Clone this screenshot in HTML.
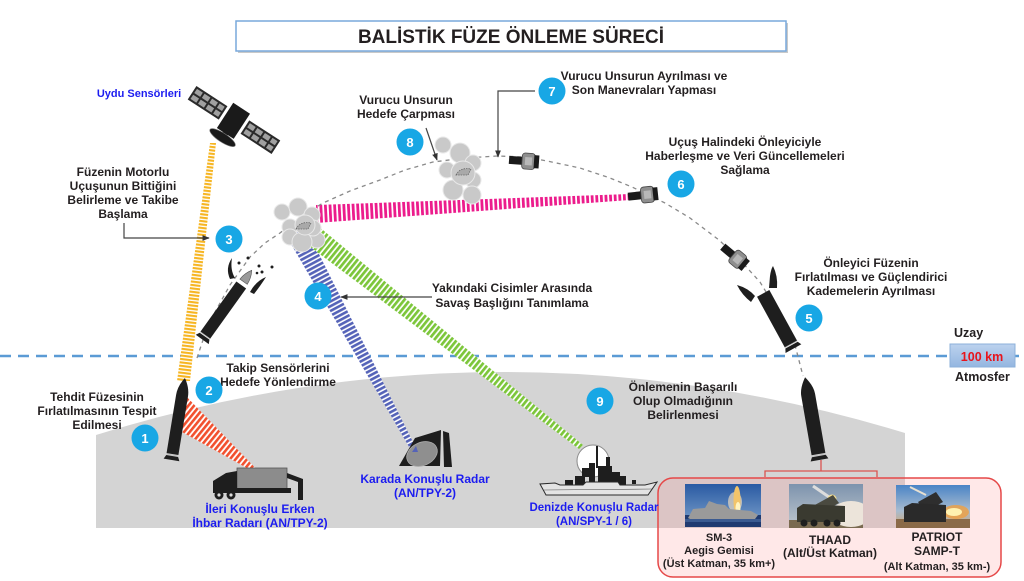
<!DOCTYPE html>
<html><head><meta charset="utf-8"><style>
html,body{margin:0;padding:0;background:#fff;}
svg{display:block;}
text{font-family:"Liberation Sans",Arial,sans-serif;font-weight:bold;fill:#231f20;}
.l{font-size:12px;text-anchor:middle;}
.b{font-size:12px;text-anchor:middle;fill:#1c1cf0;}
.n{font-size:13px;text-anchor:middle;fill:#fff;}
.c{font-size:11px;text-anchor:middle;}
</style></head><body>
<svg width="1024" height="581" viewBox="0 0 1024 581" xmlns="http://www.w3.org/2000/svg">
<defs>
<pattern id="pY" width="3.4" height="10" patternUnits="userSpaceOnUse" patternTransform="rotate(97)"><rect width="3.4" height="10" fill="#fff"/><rect width="2.1" height="10" fill="#f6b522"/></pattern>
<pattern id="pR" width="4.4" height="10" patternUnits="userSpaceOnUse" patternTransform="rotate(39)"><rect width="4.4" height="10" fill="#fff"/><rect width="2.6" height="10" fill="#f2502e"/></pattern>
<pattern id="pB" width="4.2" height="10" patternUnits="userSpaceOnUse" patternTransform="rotate(62)"><rect width="4.2" height="10" fill="#fff"/><rect width="2.6" height="10" fill="#5563b8"/></pattern>
<pattern id="pG" width="4.4" height="10" patternUnits="userSpaceOnUse" patternTransform="rotate(39)"><rect width="4.4" height="10" fill="#fff"/><rect width="2.7" height="10" fill="#7cc63a"/></pattern>
<pattern id="pM" width="4.6" height="10" patternUnits="userSpaceOnUse" patternTransform="rotate(-3)"><rect width="4.6" height="10" fill="#fff"/><rect width="2.8" height="10" fill="#ec1c8c"/></pattern>
<marker id="ah" viewBox="0 0 10 10" refX="9" refY="5" markerWidth="6" markerHeight="6" orient="auto"><path d="M0,1 L10,5 L0,9 z" fill="#333"/></marker>
<linearGradient id="g100" x1="0" y1="0" x2="0" y2="1"><stop offset="0" stop-color="#bcd2ee"/><stop offset="1" stop-color="#94b6e0"/></linearGradient>
<linearGradient id="gSM" x1="0" y1="0" x2="0" y2="1"><stop offset="0" stop-color="#2a5aa3"/><stop offset="1" stop-color="#7ea3cd"/></linearGradient>
<linearGradient id="gTH" x1="0" y1="0" x2="0" y2="1"><stop offset="0" stop-color="#7d93ad"/><stop offset="1" stop-color="#c0c8cf"/></linearGradient>
<linearGradient id="gPA" x1="0" y1="0" x2="0" y2="1"><stop offset="0" stop-color="#4a84c6"/><stop offset="0.6" stop-color="#a8bcd0"/><stop offset="1" stop-color="#d6a66c"/></linearGradient>
<g id="kv"><rect x="-16" y="-4" width="14" height="8" fill="#1a1a1a"/><rect x="-3" y="-8" width="13" height="16" rx="3" fill="#8f8f8f" stroke="#444" stroke-width="0.8"/><rect x="0" y="-4" width="7" height="8" fill="#b8b8b8"/><rect x="9" y="-6.5" width="5" height="13" fill="#1a1a1a"/></g>
<path id="wh" d="M-7,3 Q-3,-5 8,-3 L5,3 Z" fill="#a9a9a9" stroke="#666" stroke-width="0.8" stroke-dasharray="1.5 1"/>
</defs>

<!-- ground -->
<path d="M96,435 Q500,310 905,433 L905,528 L96,528 Z" fill="#d4d4d4"/>

<!-- space line -->
<line x1="0" y1="356" x2="1024" y2="356" stroke="#5b9bd5" stroke-width="2.5" stroke-dasharray="11 7"/>

<!-- title -->
<rect x="238" y="23" width="550" height="30" fill="#c9c9c9"/>
<rect x="236" y="21" width="550" height="30" fill="#fff" stroke="#78a9dc" stroke-width="1.5"/>
<text x="511" y="43" style="font-size:19px;text-anchor:middle;">BALİSTİK FÜZE ÖNLEME SÜRECİ</text>

<!-- beams -->
<polygon points="210,143 216,143 190,381 177,381" fill="url(#pY)"/>
<polygon points="184,394 182,432 265,478" fill="url(#pR)"/>
<polygon points="284,232 306,228 418,452 412,452" fill="url(#pB)"/>
<polygon points="318,226 309,246 579,449 583,445" fill="url(#pG)"/>
<polygon points="316,205 316,223 630,200 630,194" fill="url(#pM)"/>

<!-- trajectory -->
<polyline points="197,358 204,337 215,312 230,285 250,257 265,243 280,233 300,217 323,203 350,191 380,180 405,170 433,162 465,158 497,156 525,157 547,161 580,168 610,178 632,187 665,203 690,218 719,240 740,260 760,282 780,315 795,345 803,376" fill="none" stroke="#8a8a8a" stroke-width="1.3" stroke-dasharray="4 4"/>

<!-- satellite -->
<g transform="translate(234,120) rotate(33)">
 <rect x="-50" y="-8" width="37" height="16" fill="#2a2a2a"/>
 <g fill="#a0a0a0">
  <rect x="-48" y="-6" width="7" height="5"/><rect x="-39" y="-6" width="7" height="5"/><rect x="-30" y="-6" width="7" height="5"/><rect x="-21" y="-6" width="6" height="5"/>
  <rect x="-48" y="1" width="7" height="5"/><rect x="-39" y="1" width="7" height="5"/><rect x="-30" y="1" width="7" height="5"/><rect x="-21" y="1" width="6" height="5"/>
 </g>
 <rect x="13" y="-8" width="37" height="16" fill="#2a2a2a"/>
 <g fill="#a0a0a0">
  <rect x="15" y="-6" width="7" height="5"/><rect x="24" y="-6" width="7" height="5"/><rect x="33" y="-6" width="7" height="5"/><rect x="42" y="-6" width="6" height="5"/>
  <rect x="15" y="1" width="7" height="5"/><rect x="24" y="1" width="7" height="5"/><rect x="33" y="1" width="7" height="5"/><rect x="42" y="1" width="6" height="5"/>
 </g>
 <rect x="-10" y="-14" width="20" height="30" fill="#1a1a1a"/>
 <rect x="-3" y="14" width="6" height="6" fill="#1a1a1a"/>
 <ellipse cx="0" cy="21" rx="15" ry="4.5" fill="#1a1a1a" stroke="#777" stroke-width="0.6"/>
</g>

<!-- debris clouds -->
<g fill="#c9c9c9" stroke="#e8e8e8" stroke-width="1">
 <circle cx="282" cy="212" r="8"/><circle cx="298" cy="207" r="9"/><circle cx="312" cy="215" r="8"/>
 <circle cx="290" cy="227" r="8"/><circle cx="290" cy="237" r="8"/><circle cx="317" cy="240" r="8"/>
 <circle cx="313" cy="228" r="8"/><circle cx="302" cy="242" r="10"/><circle cx="305" cy="225" r="10"/>
 <circle cx="443" cy="145" r="8"/><circle cx="460" cy="153" r="10"/><circle cx="473" cy="163" r="8"/>
 <circle cx="447" cy="170" r="8"/><circle cx="473" cy="180" r="8"/><circle cx="453" cy="190" r="10"/>
 <circle cx="472" cy="195" r="9"/><circle cx="463" cy="173" r="12"/>
</g>
<use href="#wh" transform="translate(303,226)"/>
<use href="#wh" transform="translate(463,172)"/>

<!-- kill vehicles -->
<use href="#kv" transform="translate(525,161) rotate(4)"/>
<use href="#kv" transform="translate(644,195) rotate(-6)"/>
<use href="#kv" transform="translate(735,257) rotate(40)"/>

<!-- threat missile launch -->
<g transform="translate(172,457) rotate(9.3)">
 <path d="M-6,-3 L-6,-62 Q-6,-71 0,-80 Q6,-71 6,-62 L6,-3 Z" fill="#1e1e1e"/>
 <path d="M-8,3 L8,3 L6,-1 L-6,-1 Z" fill="#1e1e1e"/>
 <line x1="-6" y1="-2" x2="6" y2="-2" stroke="#bbb" stroke-width="0.8"/>
</g>
<!-- threat missile midcourse -->
<g transform="translate(204,337) rotate(35.6)">
 <rect x="-6" y="-64" width="12" height="62" fill="#1e1e1e"/>
 <path d="M-8,3 L8,3 L6,-1 L-6,-1 Z" fill="#1e1e1e"/>
 <line x1="-6" y1="-2" x2="6" y2="-2" stroke="#bbb" stroke-width="0.8"/>
 <path d="M-4.5,-68 L4.5,-68 Q4,-76 0,-82 Q-4,-76 -4.5,-68 Z" fill="#9a9a9a" stroke="#555" stroke-width="0.6"/>
</g>
<path d="M230,279 Q225,268 232,258 Q230,270 235,278 Z" fill="#1e1e1e"/>
<path d="M250,292 Q256,281 266,277 Q261,285 254,294 Z" fill="#1e1e1e"/>
<g fill="#1e1e1e"><circle cx="248" cy="258" r="1.5"/><circle cx="239" cy="263" r="1.5"/><circle cx="259" cy="266" r="1.5"/><circle cx="272" cy="267" r="1.5"/><circle cx="262" cy="272" r="1.5"/><circle cx="257" cy="273" r="1.3"/></g>

<!-- interceptor upper -->
<g transform="translate(792,346) rotate(-28.7)">
 <rect x="-7" y="-60" width="14" height="58" fill="#1e1e1e"/>
 <path d="M-9,3 L9,3 L7,-1 L-7,-1 Z" fill="#1e1e1e"/>
 <line x1="-7" y1="-2" x2="7" y2="-2" stroke="#bbb" stroke-width="0.8"/>
</g>
<path d="M769,288 L770,276 Q771,269 773,266 Q778,276 777,288 Z" fill="#1e1e1e"/>
<path d="M737,285 Q748,288 755,296 L751,302 Q742,295 737,285 Z" fill="#1e1e1e"/>
<!-- interceptor launch -->
<g transform="translate(819,457) rotate(-9.9)">
 <path d="M-7,-3 L-7,-63 Q-7,-71 0,-81 Q7,-71 7,-63 L7,-3 Z" fill="#1e1e1e"/>
 <path d="M-9,3 L9,3 L7,-1 L-7,-1 Z" fill="#1e1e1e"/>
 <line x1="-7" y1="-2" x2="7" y2="-2" stroke="#bbb" stroke-width="0.8"/>
</g>

<!-- radar truck -->
<rect x="237" y="468" width="50" height="22" fill="#8c8c8c" stroke="#555" stroke-width="0.8"/>
<path d="M213,490 L213,481 L226,473 L237,471 L237,490 Z" fill="#1e1e1e"/>
<rect x="213" y="488" width="78" height="5" fill="#1e1e1e"/>
<path d="M287,473 L303,479 L303,500 L298,500 L298,482 L287,478 Z" fill="#1e1e1e"/>
<circle cx="219" cy="495" r="4.5" fill="#1e1e1e"/><circle cx="219" cy="495" r="1.6" fill="#ddd"/>
<circle cx="231" cy="495" r="4.5" fill="#1e1e1e"/><circle cx="231" cy="495" r="1.6" fill="#ddd"/>

<!-- land radar -->
<polygon points="399,466 415,438 441,430 440,466" fill="#1e1e1e"/>
<polygon points="443,431 449,433 452,467 444,467" fill="#1e1e1e"/>
<ellipse cx="422" cy="454" rx="16" ry="11.5" transform="rotate(-25 422 454)" fill="#8f8f8f" stroke="#aaa" stroke-width="0.8"/>
<polygon points="412,452 418,452 416,446" fill="#5563b8"/>

<!-- ship -->
<circle cx="593" cy="461" r="16" fill="#fff" stroke="#8a8a8a" stroke-width="1"/>
<g fill="#1e1e1e">
 <rect x="596" y="446" width="2" height="22"/>
 <rect x="575" y="476" width="10" height="9"/>
 <rect x="582" y="468" width="8" height="9"/>
 <rect x="589" y="463" width="6" height="22"/>
 <rect x="598" y="466" width="14" height="19"/>
 <rect x="606" y="457" width="4" height="10"/>
 <rect x="612" y="472" width="8" height="13"/>
 <rect x="620" y="476" width="6" height="9"/>
 <rect x="565" y="480" width="8" height="5"/>
 <rect x="632" y="480" width="4" height="4"/>
</g>
<polygon points="540,484 546,495 648,495 657,482 645,485 620,485 618,482 586,482 583,485 560,485 555,483" fill="#e4e4e4" stroke="#2a2a2a" stroke-width="1"/>
<line x1="544" y1="490" x2="652" y2="489" stroke="#555" stroke-width="0.6"/>

<!-- interceptor box -->
<path d="M765,477 V471 H877 V477 M821,471 V460" fill="none" stroke="#d9534f" stroke-width="1.3"/>
<rect x="658" y="478" width="343" height="99" rx="15" fill="rgba(255,140,140,0.2)" stroke="#e54848" stroke-width="1.5"/>

<!-- SM-3 photo -->
<svg x="685" y="484" width="76" height="43" viewBox="0 0 76 43">
 <rect width="76" height="43" fill="url(#gSM)"/>
 <rect y="31" width="76" height="12" fill="#1f3a70"/>
 <ellipse cx="50" cy="18" rx="7" ry="10" fill="#e8d8c0" opacity="0.7"/>
 <ellipse cx="52" cy="16" rx="3.5" ry="14" fill="#f2c46a"/>
 <ellipse cx="53" cy="24" rx="2.5" ry="6" fill="#fff3c0"/>
 <polygon points="3,34 8,25 20,24 24,17 32,20 40,21 44,25 66,27 73,31 70,35 5,35" fill="#9a9a9a"/>
 <rect x="0" y="35" width="76" height="3" fill="#3a5a90"/>
</svg>
<!-- THAAD photo -->
<svg x="789" y="484" width="74" height="44" viewBox="0 0 74 44">
 <rect width="74" height="44" fill="url(#gTH)"/>
 <rect y="36" width="74" height="8" fill="#7a6a50"/>
 <ellipse cx="62" cy="30" rx="20" ry="13" fill="#ece4da"/>
 <line x1="40" y1="13" x2="24" y2="2" stroke="#ddd" stroke-width="3"/>
 <circle cx="43" cy="15" r="4.5" fill="#f8e090"/>
 <polygon points="24,22 44,11 50,19 30,30" fill="#4a4a40"/>
 <polygon points="8,24 14,20 56,22 56,38 8,38" fill="#3a3a30"/>
 <g fill="#1e1e1e"><circle cx="15" cy="39" r="3.5"/><circle cx="25" cy="39" r="3.5"/><circle cx="38" cy="39" r="3.5"/><circle cx="48" cy="39" r="3.5"/></g>
</svg>
<!-- PATRIOT photo -->
<svg x="896" y="485" width="74" height="43" viewBox="0 0 74 43">
 <rect width="74" height="43" fill="url(#gPA)"/>
 <rect y="34" width="74" height="9" fill="#8a6a48"/>
 <line x1="30" y1="10" x2="14" y2="2" stroke="#e8e0d0" stroke-width="2"/>
 <ellipse cx="60" cy="27" rx="13" ry="7" fill="#f0a040" opacity="0.8"/>
 <ellipse cx="58" cy="27" rx="8" ry="4" fill="#fff2b0"/>
 <polygon points="22,17 40,7 47,17 29,27" fill="#2e2e2e"/>
 <polygon points="8,22 16,18 50,20 50,37 8,37" fill="#2a2a2a"/>
</svg>

<!-- captions -->
<text class="c" x="719" y="541">SM-3</text>
<text class="c" x="719" y="554">Aegis  Gemisi</text>
<text class="c" x="719" y="567">(Üst Katman, 35 km+)</text>
<text class="c" x="830" y="544" style="font-size:12px">THAAD</text>
<text class="c" x="830" y="557" style="font-size:12px">(Alt/Üst Katman)</text>
<text class="c" x="937" y="541" style="font-size:12px">PATRIOT</text>
<text class="c" x="937" y="555" style="font-size:12px">SAMP-T</text>
<text class="c" x="937" y="570">(Alt Katman,  35 km-)</text>

<!-- 100 km -->
<rect x="950" y="344" width="65" height="23" fill="url(#g100)" stroke="#8cb0da" stroke-width="1"/>
<text x="982" y="361" style="font-size:12.5px;text-anchor:middle;fill:#e8141c">100 km</text>
<text x="954" y="337" style="font-size:12.5px">Uzay</text>
<text x="955" y="381" style="font-size:12.5px">Atmosfer</text>

<!-- arrows -->
<path d="M124,223 V238 H209" fill="none" stroke="#444" stroke-width="1.2" marker-end="url(#ah)"/>
<line x1="426" y1="128" x2="437" y2="160" stroke="#444" stroke-width="1.2" marker-end="url(#ah)"/>
<path d="M535,91 H498 V157" fill="none" stroke="#444" stroke-width="1.2" marker-end="url(#ah)"/>
<line x1="432" y1="297" x2="341" y2="297" stroke="#444" stroke-width="1.2" marker-end="url(#ah)"/>

<!-- labels -->
<text x="139" y="97" style="font-size:11px;text-anchor:middle;fill:#1c1cf0">Uydu Sensörleri</text>
<text class="l" x="123" y="176">Füzenin Motorlu</text>
<text class="l" x="123" y="190">Uçuşunun Bittiğini</text>
<text class="l" x="123" y="204">Belirleme ve Takibe</text>
<text class="l" x="123" y="218">Başlama</text>
<text class="l" x="406" y="104">Vurucu Unsurun</text>
<text class="l" x="406" y="118">Hedefe Çarpması</text>
<text class="l" x="644" y="80">Vurucu Unsurun Ayrılması ve</text>
<text class="l" x="644" y="94">Son Manevraları Yapması</text>
<text class="l" x="745" y="146">Uçuş Halindeki Önleyiciyle</text>
<text class="l" x="745" y="160">Haberleşme ve Veri Güncellemeleri</text>
<text class="l" x="745" y="174">Sağlama</text>
<text class="l" x="871" y="267">Önleyici Füzenin</text>
<text class="l" x="871" y="281">Fırlatılması ve Güçlendirici</text>
<text class="l" x="871" y="295">Kademelerin Ayrılması</text>
<text class="l" x="512" y="292">Yakındaki Cisimler Arasında</text>
<text class="l" x="512" y="307">Savaş Başlığını Tanımlama</text>
<text class="l" x="278" y="372">Takip Sensörlerini</text>
<text class="l" x="278" y="386">Hedefe Yönlendirme</text>
<text class="l" x="97" y="401">Tehdit Füzesinin</text>
<text class="l" x="97" y="415">Fırlatılmasının Tespit</text>
<text class="l" x="97" y="429">Edilmesi</text>
<text class="l" x="683" y="391">Önlemenin Başarılı</text>
<text class="l" x="683" y="405">Olup Olmadığının</text>
<text class="l" x="683" y="419">Belirlenmesi</text>
<text class="b" x="260" y="513">İleri Konuşlu Erken</text>
<text class="b" x="260" y="527">İhbar Radarı (AN/TPY-2)</text>
<text class="b" x="425" y="483">Karada Konuşlu Radar</text>
<text class="b" x="425" y="497">(AN/TPY-2)</text>
<text class="b" x="594" y="511" style="font-size:11.5px">Denizde  Konuşlu  Radar</text>
<text class="b" x="594" y="525" style="font-size:11.5px">(AN/SPY-1 / 6)</text>

<!-- number circles -->
<g fill="#18a7e5">
 <circle cx="145" cy="438" r="13.5"/><circle cx="209" cy="390" r="13.5"/><circle cx="229" cy="239" r="13.5"/>
 <circle cx="318" cy="296" r="13.5"/><circle cx="809" cy="318" r="13.5"/><circle cx="681" cy="184" r="13.5"/>
 <circle cx="552" cy="91" r="13.5"/><circle cx="410" cy="142" r="13.5"/><circle cx="600" cy="401" r="13.5"/>
</g>
<text class="n" x="145" y="443">1</text>
<text class="n" x="209" y="395">2</text>
<text class="n" x="229" y="244">3</text>
<text class="n" x="318" y="301">4</text>
<text class="n" x="809" y="323">5</text>
<text class="n" x="681" y="189">6</text>
<text class="n" x="552" y="96">7</text>
<text class="n" x="410" y="147">8</text>
<text class="n" x="600" y="406">9</text>
</svg>
</body></html>
